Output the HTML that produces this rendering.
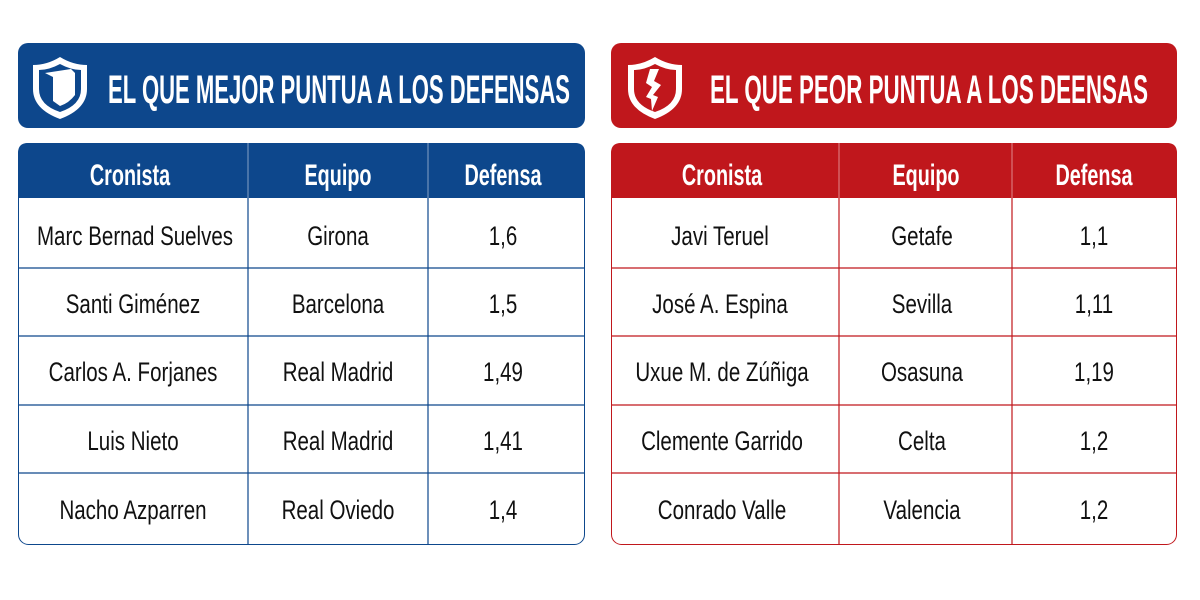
<!DOCTYPE html><html><head><meta charset="utf-8"><style>body{margin:0;background:#fff}svg{display:block}</style></head><body>
<svg width="1200" height="600" viewBox="0 0 1200 600" font-family="Liberation Sans, Arial, sans-serif">
<rect width="1200" height="600" fill="#fff"/>
<!-- LEFT -->
<rect x="18" y="43" width="567" height="85" rx="10" fill="#0d478c"/>
<g transform="translate(33,55)">
<path d="M27 2 Q40 10 54 10 L54 34 Q54 54 27 64 Q0 54 0 34 L0 10 Q14 10 27 2Z" fill="#fff"/>
<path d="M27 9 Q38 15 48 15 L48 34 Q48 50 27 57 Q6 50 6 34 L6 15 Q16 15 27 9Z" fill="#0d478c"/>
<path d="M12 18 L38 14 L42 18 L42 40 Q36 48 27 51 L20 46 L20 22 Z" fill="#fff"/>
</g>
<text x="108" y="103" font-size="40" font-weight="bold" fill="#fff" textLength="462" lengthAdjust="spacingAndGlyphs">EL QUE MEJOR PUNTUA A LOS DEFENSAS</text>
<rect x="18.5" y="143.5" width="566" height="401" rx="10" fill="#fff" stroke="#0d478c"/>
<path d="M18 198 L18 153 Q18 143 28 143 L575 143 Q585 143 585 153 L585 198Z" fill="#0d478c"/>
<g stroke="#0d478c" stroke-width="1.2">
<line x1="248" y1="143" x2="248" y2="545"/><line x1="428" y1="143" x2="428" y2="545"/>
<line x1="18" y1="268" x2="585" y2="268"/><line x1="18" y1="336" x2="585" y2="336"/>
<line x1="18" y1="405" x2="585" y2="405"/><line x1="18" y1="473" x2="585" y2="473"/>
</g>
<line x1="248" y1="143" x2="248" y2="198" stroke="#fff" stroke-opacity=".5"/><line x1="428" y1="143" x2="428" y2="198" stroke="#fff" stroke-opacity=".5"/>
<g fill="#fff" font-size="30" font-weight="bold" text-anchor="middle">
<text transform="translate(130,185) scale(0.66,1)">Cronista</text>
<text transform="translate(338,185) scale(0.66,1)">Equipo</text>
<text transform="translate(503,185) scale(0.66,1)">Defensa</text>
</g>
<g fill="#111" font-size="27" text-anchor="middle">
<text transform="translate(135,245) scale(0.76,1)">Marc Bernad Suelves</text>
<text transform="translate(338,245) scale(0.76,1)">Girona</text>
<text transform="translate(503,245) scale(0.76,1)">1,6</text>
<text transform="translate(133,313) scale(0.76,1)">Santi Giménez</text>
<text transform="translate(338,313) scale(0.76,1)">Barcelona</text>
<text transform="translate(503,313) scale(0.76,1)">1,5</text>
<text transform="translate(133,381) scale(0.76,1)">Carlos A. Forjanes</text>
<text transform="translate(338,381) scale(0.76,1)">Real Madrid</text>
<text transform="translate(503,381) scale(0.76,1)">1,49</text>
<text transform="translate(133,450) scale(0.76,1)">Luis Nieto</text>
<text transform="translate(338,450) scale(0.76,1)">Real Madrid</text>
<text transform="translate(503,450) scale(0.76,1)">1,41</text>
<text transform="translate(133,519) scale(0.76,1)">Nacho Azparren</text>
<text transform="translate(338,519) scale(0.76,1)">Real Oviedo</text>
<text transform="translate(503,519) scale(0.76,1)">1,4</text>
</g>
<!-- RIGHT -->
<rect x="611" y="43" width="566" height="85" rx="10" fill="#c0171c"/>
<g transform="translate(628,55)">
<path d="M27 2 Q40 10 54 10 L54 34 Q54 54 27 64 Q0 54 0 34 L0 10 Q14 10 27 2Z" fill="#fff"/>
<path d="M27 9 Q38 15 48 15 L48 34 Q48 50 27 57 Q6 50 6 34 L6 15 Q16 15 27 9Z" fill="#c0171c"/>
<path d="M22 14 L31 14 L26 26 L33 30 L25 40 L30 42 L24 56 L23 44 L18 42 L24 32 L18 28 Z" fill="#fff"/>
</g>
<text x="710" y="103" font-size="40" font-weight="bold" fill="#fff" textLength="438" lengthAdjust="spacingAndGlyphs">EL QUE PEOR PUNTUA A LOS DEENSAS</text>
<rect x="611.5" y="143.5" width="565" height="401" rx="10" fill="#fff" stroke="#c0171c"/>
<path d="M611 198 L611 153 Q611 143 621 143 L1167 143 Q1177 143 1177 153 L1177 198Z" fill="#c0171c"/>
<g stroke="#c0171c" stroke-width="1.2">
<line x1="839" y1="143" x2="839" y2="545"/><line x1="1012" y1="143" x2="1012" y2="545"/>
<line x1="611" y1="268" x2="1177" y2="268"/><line x1="611" y1="336" x2="1177" y2="336"/>
<line x1="611" y1="405" x2="1177" y2="405"/><line x1="611" y1="473" x2="1177" y2="473"/>
</g>
<line x1="839" y1="143" x2="839" y2="198" stroke="#fff" stroke-opacity=".5"/><line x1="1012" y1="143" x2="1012" y2="198" stroke="#fff" stroke-opacity=".5"/>
<g fill="#fff" font-size="30" font-weight="bold" text-anchor="middle">
<text transform="translate(722,185) scale(0.66,1)">Cronista</text>
<text transform="translate(926,185) scale(0.66,1)">Equipo</text>
<text transform="translate(1094,185) scale(0.66,1)">Defensa</text>
</g>
<g fill="#111" font-size="27" text-anchor="middle">
<text transform="translate(720,245) scale(0.76,1)">Javi Teruel</text>
<text transform="translate(922,245) scale(0.76,1)">Getafe</text>
<text transform="translate(1094,245) scale(0.76,1)">1,1</text>
<text transform="translate(720,313) scale(0.76,1)">José A. Espina</text>
<text transform="translate(922,313) scale(0.76,1)">Sevilla</text>
<text transform="translate(1094,313) scale(0.76,1)">1,11</text>
<text transform="translate(722,381) scale(0.76,1)">Uxue M. de Zúñiga</text>
<text transform="translate(922,381) scale(0.76,1)">Osasuna</text>
<text transform="translate(1094,381) scale(0.76,1)">1,19</text>
<text transform="translate(722,450) scale(0.76,1)">Clemente Garrido</text>
<text transform="translate(922,450) scale(0.76,1)">Celta</text>
<text transform="translate(1094,450) scale(0.76,1)">1,2</text>
<text transform="translate(722,519) scale(0.76,1)">Conrado Valle</text>
<text transform="translate(922,519) scale(0.76,1)">Valencia</text>
<text transform="translate(1094,519) scale(0.76,1)">1,2</text>
</g>
</svg>
</body></html>
